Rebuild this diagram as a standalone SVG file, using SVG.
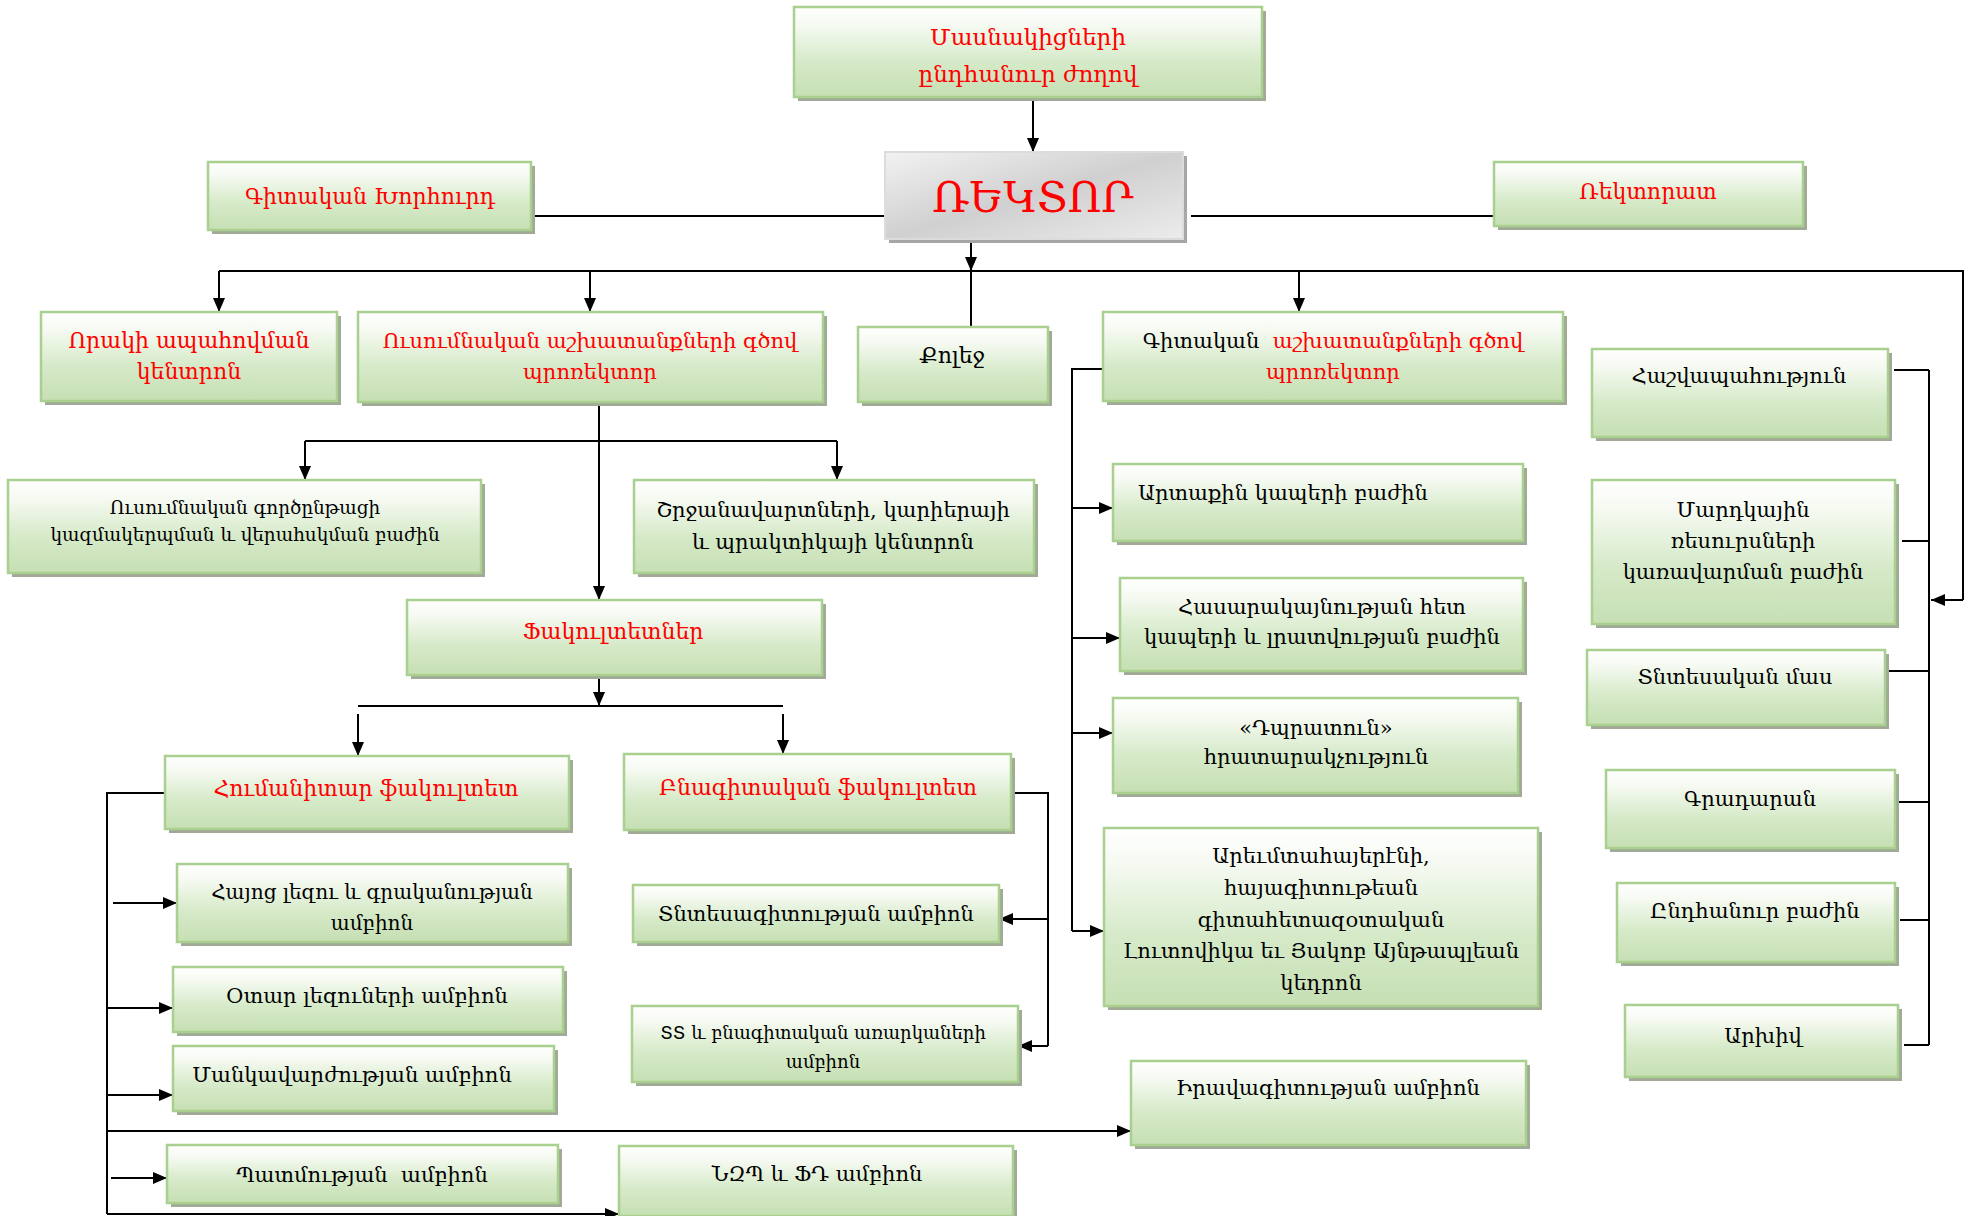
<svg xmlns="http://www.w3.org/2000/svg" width="1970" height="1216" viewBox="0 0 1970 1216">
<defs>
<linearGradient id="gg" x1="0" y1="0" x2="0" y2="1">
<stop offset="0" stop-color="#ffffff"/>
<stop offset="0.2" stop-color="#f6faf2"/>
<stop offset="0.6" stop-color="#d6eac9"/>
<stop offset="1" stop-color="#c6dfb3"/>
</linearGradient>
<linearGradient id="gr" x1="0" y1="0" x2="1" y2="1">
<stop offset="0" stop-color="#f2f2f2"/>
<stop offset="0.5" stop-color="#d0d0d0"/>
<stop offset="1" stop-color="#ececec"/>
</linearGradient>
<marker id="ah" markerWidth="14" markerHeight="12" refX="14" refY="6" orient="auto" markerUnits="userSpaceOnUse">
<path d="M0,0 L14,6 L0,12 Z" fill="#000"/>
</marker>
</defs>
<style>
.sh{fill:#a1aa97}
.box{fill:url(#gg);stroke:#a9d08e;stroke-width:2.5}
.gbox{fill:url(#gr);stroke:#dcdcdc;stroke-width:2}
.gsh{fill:#a6a6a6}
text{font-family:"DejaVu Serif","DejaVu Sans",serif;text-anchor:middle;font-size:21px}
.r{fill:#ff0000}
.k{fill:#000000}
.big{font-size:22px}
.ln{fill:none;stroke:#000;stroke-width:2}
.ar{fill:none;stroke:#000;stroke-width:2;marker-end:url(#ah)}
</style>
<rect width="1970" height="1216" fill="#ffffff"/>

<g id="connectors">
<path class="ar" d="M1033,98 V152"/>
<path class="ln" d="M531,216 H885"/>
<path class="ln" d="M1191,216 H1494"/>
<path class="ar" d="M971,239 V271"/>
<path class="ln" d="M219,271 H1963 V600"/>
<path class="ar" d="M1963,600 H1931"/>
<path class="ar" d="M219,271 V312"/>
<path class="ar" d="M590,271 V312"/>
<path class="ar" d="M1299,271 V312"/>
<path class="ln" d="M971,271 V327"/>
<path class="ar" d="M599,402 V600"/>
<path class="ln" d="M305,441 H837"/>
<path class="ar" d="M305,441 V480"/>
<path class="ar" d="M837,441 V480"/>
<path class="ar" d="M599,675 V706"/>
<path class="ln" d="M358,706 H783"/>
<path class="ar" d="M358,714 V756"/>
<path class="ar" d="M783,714 V754"/>
<path class="ln" d="M165,793 H107 V1214"/>
<path class="ar" d="M107,1214 H619"/>
<path class="ar" d="M113,903 H177"/>
<path class="ar" d="M107,1008 H173"/>
<path class="ar" d="M107,1095 H173"/>
<path class="ar" d="M107,1131 H1131"/>
<path class="ar" d="M111,1178 H167"/>
<path class="ln" d="M1011,793 H1048 V1046"/>
<path class="ar" d="M1048,919 H999"/>
<path class="ar" d="M1048,1046 H1018"/>
<path class="ln" d="M1103,369 H1072 V931"/>
<path class="ar" d="M1072,508 H1113"/>
<path class="ar" d="M1072,638 H1120"/>
<path class="ar" d="M1072,733 H1113"/>
<path class="ar" d="M1072,931 H1104"/>
<path class="ln" d="M1929,370 V1045"/>
<path class="ln" d="M1894,370 H1929"/>
<path class="ln" d="M1902,541 H1929"/>
<path class="ln" d="M1887,671 H1929"/>
<path class="ln" d="M1897,802 H1929"/>
<path class="ln" d="M1900,920 H1929"/>
<path class="ln" d="M1904,1045 H1929"/>
</g>

<g id="n-assembly">
<rect class="sh" x="798" y="11" width="468" height="90"/>
<rect class="box" x="794" y="7" width="468" height="90"/>
<text class="r" x="1028" y="45" style="font-size:23px">Մասնակիցների</text>
<text class="r" x="1028" y="82" style="font-size:23px">ընդհանուր ժողով</text>
</g>

<g id="n-rector">
<rect class="gsh" x="889" y="156" width="298" height="87"/>
<rect class="gbox" x="885" y="152" width="298" height="87"/>
<text class="r" x="1033" y="212" style="font-size:42px">ՌԵԿՏՈՐ</text>
</g>

<g id="n-council">
<rect class="sh" x="212" y="166" width="323" height="68"/>
<rect class="box" x="208" y="162" width="323" height="68"/>
<text class="r big" x="370" y="204">Գիտական Խորհուրդ</text>
</g>

<g id="n-rectorate">
<rect class="sh" x="1498" y="166" width="309" height="64"/>
<rect class="box" x="1494" y="162" width="309" height="64"/>
<text class="r big" x="1648" y="199">Ռեկտորատ</text>
</g>

<g id="n-quality">
<rect class="sh" x="45" y="316" width="296" height="89"/>
<rect class="box" x="41" y="312" width="296" height="89"/>
<text class="r big" x="189" y="348">Որակի ապահովման</text>
<text class="r big" x="189" y="379">կենտրոն</text>
</g>

<g id="n-edu-vice">
<rect class="sh" x="362" y="316" width="465" height="90"/>
<rect class="box" x="358" y="312" width="465" height="90"/>
<text class="r" x="590" y="348">Ուսումնական աշխատանքների գծով</text>
<text class="r" x="590" y="379">պրոռեկտոր</text>
</g>

<g id="n-college">
<rect class="sh" x="862" y="331" width="190" height="75"/>
<rect class="box" x="858" y="327" width="190" height="75"/>
<text class="k big" x="952" y="363">Քոլեջ</text>
</g>

<g id="n-sci-vice">
<rect class="sh" x="1107" y="316" width="460" height="89"/>
<rect class="box" x="1103" y="312" width="460" height="89"/>
<text x="1333" y="348" xml:space="preserve"><tspan class="k">Գիտական  </tspan><tspan class="r">աշխատանքների գծով</tspan></text>
<text class="r" x="1333" y="379">պրոռեկտոր</text>
</g>

<g id="n-accounting">
<rect class="sh" x="1596" y="353" width="296" height="88"/>
<rect class="box" x="1592" y="349" width="296" height="88"/>
<text class="k" x="1739" y="383">Հաշվապահություն</text>
</g>

<g id="n-hr">
<rect class="sh" x="1596" y="484" width="303" height="144"/>
<rect class="box" x="1592" y="480" width="303" height="144"/>
<text class="k" x="1743" y="517">Մարդկային</text>
<text class="k" x="1743" y="548">ռեսուրսների</text>
<text class="k" x="1743" y="579">կառավարման բաժին</text>
</g>

<g id="n-economic">
<rect class="sh" x="1591" y="654" width="298" height="75"/>
<rect class="box" x="1587" y="650" width="298" height="75"/>
<text class="k" x="1735" y="684">Տնտեսական մաս</text>
</g>

<g id="n-library">
<rect class="sh" x="1610" y="774" width="289" height="78"/>
<rect class="box" x="1606" y="770" width="289" height="78"/>
<text class="k" x="1750" y="806">Գրադարան</text>
</g>

<g id="n-general">
<rect class="sh" x="1621" y="887" width="278" height="79"/>
<rect class="box" x="1617" y="883" width="278" height="79"/>
<text class="k" x="1755" y="918">Ընդհանուր բաժին</text>
</g>

<g id="n-archive">
<rect class="sh" x="1629" y="1009" width="273" height="72"/>
<rect class="box" x="1625" y="1005" width="273" height="72"/>
<text class="k" x="1763" y="1043">Արխիվ</text>
</g>

<g id="n-process">
<rect class="sh" x="12" y="484" width="473" height="93"/>
<rect class="box" x="8" y="480" width="473" height="93"/>
<text class="k" x="245" y="514" style="font-size:18.4px">Ուսումնական գործընթացի</text>
<text class="k" x="245" y="541" style="font-size:18.4px">կազմակերպման և վերահսկման բաժին</text>
</g>

<g id="n-career">
<rect class="sh" x="638" y="484" width="400" height="93"/>
<rect class="box" x="634" y="480" width="400" height="93"/>
<text class="k" x="833" y="517">Շրջանավարտների, կարիերայի</text>
<text class="k" x="833" y="549">և պրակտիկայի կենտրոն</text>
</g>

<g id="n-faculties">
<rect class="sh" x="411" y="604" width="415" height="75"/>
<rect class="box" x="407" y="600" width="415" height="75"/>
<text class="r big" x="613" y="639">Ֆակուլտետներ</text>
</g>

<g id="n-hum">
<rect class="sh" x="169" y="760" width="404" height="73"/>
<rect class="box" x="165" y="756" width="404" height="73"/>
<text class="r big" x="366" y="796">Հումանիտար ֆակուլտետ</text>
</g>

<g id="n-nat">
<rect class="sh" x="628" y="758" width="387" height="76"/>
<rect class="box" x="624" y="754" width="387" height="76"/>
<text class="r big" x="818" y="795">Բնագիտական ֆակուլտետ</text>
</g>

<g id="n-armenian">
<rect class="sh" x="181" y="868" width="391" height="78"/>
<rect class="box" x="177" y="864" width="391" height="78"/>
<text class="k" x="372" y="899" style="font-size:20px">Հայոց լեզու և գրականության</text>
<text class="k" x="372" y="930" style="font-size:20px">ամբիոն</text>
</g>

<g id="n-foreign">
<rect class="sh" x="177" y="971" width="390" height="65"/>
<rect class="box" x="173" y="967" width="390" height="65"/>
<text class="k" x="367" y="1003">Օտար լեզուների ամբիոն</text>
</g>

<g id="n-pedagogy">
<rect class="sh" x="177" y="1050" width="381" height="65"/>
<rect class="box" x="173" y="1046" width="381" height="65"/>
<text class="k" x="352" y="1082">Մանկավարժության ամբիոն</text>
</g>

<g id="n-history">
<rect class="sh" x="171" y="1149" width="391" height="58"/>
<rect class="box" x="167" y="1145" width="391" height="58"/>
<text class="k" x="362" y="1182" xml:space="preserve">Պատմության  ամբիոն</text>
</g>

<g id="n-economics">
<rect class="sh" x="637" y="889" width="366" height="57"/>
<rect class="box" x="633" y="885" width="366" height="57"/>
<text class="k" x="816" y="921">Տնտեսագիտության ամբիոն</text>
</g>

<g id="n-it">
<rect class="sh" x="636" y="1010" width="386" height="76"/>
<rect class="box" x="632" y="1006" width="386" height="76"/>
<text class="k" x="823" y="1039" style="font-size:18px"><tspan style="font-family:'DejaVu Sans',sans-serif">ՏՏ</tspan> և բնագիտական առարկաների</text>
<text class="k" x="823" y="1068" style="font-size:18px">ամբիոն</text>
</g>

<g id="n-military">
<rect class="sh" x="623" y="1150" width="394" height="70"/>
<rect class="box" x="619" y="1146" width="394" height="70"/>
<text class="k" x="817" y="1181">ՆԶՊ և ՖԴ ամբիոն</text>
</g>

<g id="n-external">
<rect class="sh" x="1117" y="468" width="410" height="77"/>
<rect class="box" x="1113" y="464" width="410" height="77"/>
<text class="k" x="1138" y="500" style="text-anchor:start">Արտաքին կապերի բաժին</text>
</g>

<g id="n-pr">
<rect class="sh" x="1124" y="582" width="403" height="93"/>
<rect class="box" x="1120" y="578" width="403" height="93"/>
<text class="k" x="1322" y="614">Հասարակայնության հետ</text>
<text class="k" x="1322" y="644">կապերի և լրատվության բաժին</text>
</g>

<g id="n-press">
<rect class="sh" x="1117" y="702" width="405" height="95"/>
<rect class="box" x="1113" y="698" width="405" height="95"/>
<text class="k" x="1316" y="735">«Դպրատուն»</text>
<text class="k" x="1316" y="764">հրատարակչություն</text>
</g>

<g id="n-western">
<rect class="sh" x="1108" y="832" width="434" height="178"/>
<rect class="box" x="1104" y="828" width="434" height="178"/>
<text class="k" x="1321" y="863">Արեւմտահայերէնի,</text>
<text class="k" x="1321" y="895">հայագիտութեան</text>
<text class="k" x="1321" y="927">գիտահետազօտական</text>
<text class="k" x="1321" y="958">Լուտովիկա եւ Յակոբ Այնթապլեան</text>
<text class="k" x="1321" y="990">կեդրոն</text>
</g>

<g id="n-law">
<rect class="sh" x="1135" y="1065" width="395" height="84"/>
<rect class="box" x="1131" y="1061" width="395" height="84"/>
<text class="k" x="1328" y="1095">Իրավագիտության ամբիոն</text>
</g>
</svg>
